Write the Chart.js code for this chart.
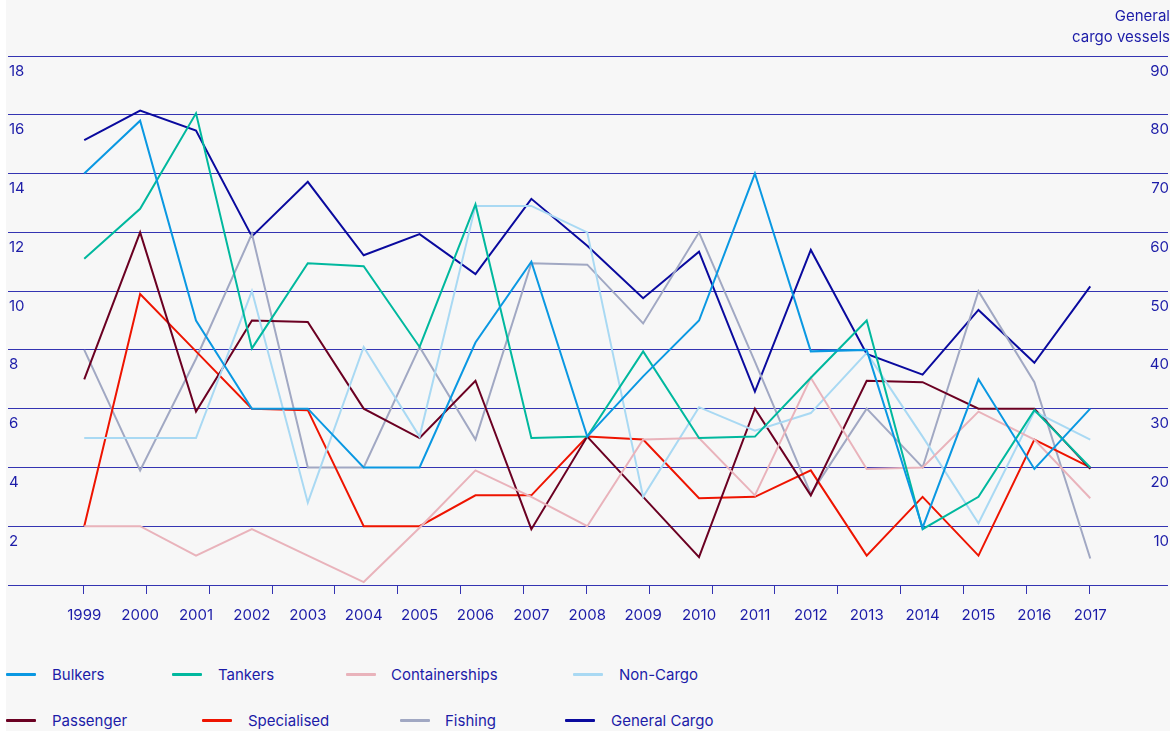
<!DOCTYPE html>
<html>
<head>
<meta charset="utf-8">
<script src="https://cdn.jsdelivr.net/npm/chart.js@4.4.1/dist/chart.umd.min.js"></script>
<style>
  html, body { margin: 0; padding: 0; background: #ffffff; }
  #panel { position: absolute; left: 6px; top: 0; width: 1164px; height: 731px; background: #f7f7f7; }
  #chart { position: absolute; left: 0; top: 0; }
  .item { position: absolute; height: 20px; font: 15px Inter, sans-serif; color: #1c1ca8; white-space: nowrap; }
  .item .mark { position: absolute; left: 0; top: 8px; width: 30px; height: 3px; border-radius: 1px; }
  .item .txt { position: absolute; top: 0; line-height: 20px; }
</style>
</head>
<body>
<div id="panel">
  <canvas id="chart" width="1164" height="634"></canvas>
</div>
<div id="legend"></div>
<script>
// Values (left axis: number of vessels, right axis: general cargo)
const years = [1999, 2000, 2001, 2002, 2003, 2004, 2005, 2006, 2007, 2008, 2009, 2010, 2011, 2012, 2013, 2014, 2015, 2016, 2017];

const bulkers        = [14.0, 15.8, 9.0, 6.0, 6.0, 4.0, 4.0, 8.25, 11.0, 5.05, 7.1, 9.0, 14.0, 7.95, 8.0, 1.95, 7.0, 3.95, 6.0];
const tankers        = [11.1, 12.8, 16.05, 8.05, 10.95, 10.85, 8.1, 12.95, 5.0, 5.05, 7.95, 5.0, 5.05, 7.05, 9.0, 1.9, 3.0, 5.95, 4.0];
const containerships = [2.0, 2.0, 1.0, 1.9, 1.0, 0.1, 1.95, 3.9, 3.0, 2.0, 4.95, 5.0, 3.05, 7.05, 3.95, 4.0, 5.9, 4.95, 2.95];
const nonCargo       = [5.0, 5.0, 5.0, 10.0, 2.8, 8.1, 5.05, 12.9, 12.9, 12.0, 3.0, 6.05, 5.25, 5.85, 7.9, 5.05, 2.1, 5.9, 4.95];
const passenger      = [7.0, 12.0, 5.9, 9.0, 8.95, 6.0, 5.0, 6.95, 1.9, 5.05, 3.0, 0.95, 6.0, 3.05, 6.95, 6.9, 6.0, 6.0, 3.95];
const specialised    = [2.0, 9.9, 7.95, 6.0, 5.95, 2.0, 2.0, 3.05, 3.05, 5.05, 4.95, 2.95, 3.0, 3.9, 1.0, 3.0, 1.0, 4.95, 4.0];
const fishing        = [8.0, 3.9, 7.7, 11.95, 4.0, 4.0, 8.1, 4.95, 10.95, 10.9, 8.9, 12.0, 7.6, 3.1, 6.0, 4.0, 10.0, 6.9, 0.9];
const generalCargo   = [75.7, 80.7, 77.3, 59.3, 68.6, 56.1, 59.7, 52.9, 65.7, 57.7, 48.8, 56.7, 32.9, 57.0, 39.3, 35.8, 46.8, 37.8, 50.8];

const leftTicks = [0, 2, 4, 6, 8, 10, 12, 14, 16, 18];
const rightTicks = [0, 10, 20, 30, 40, 50, 60, 70, 80, 90];
const axisMarks = [0, 1, 2, 3, 4, 5, 6, 7, 8, 9, 10, 11, 12, 13, 14, 15, 16];

const seriesNames = ["Bulkers", "Tankers", "Containerships", "Non-Cargo", "Passenger", "Specialised", "Fishing", "General Cargo"];
const seriesValues = [bulkers, tankers, containerships, nonCargo, passenger, specialised, fishing, generalCargo];
const seriesColors = ["#0a98e2", "#00b89e", "#e9b3bb", "#a9d9f3", "#6b0022", "#ee1400", "#a1a8c3", "#0a0a9e"];

const blue = "#1c1ca8";
const gridBlue = "#3434b2";

const datasets = seriesNames.map((name, i) => ({
    label: name,
    data: years.map((y, k) => ({ x: y, y: seriesValues[i][k] })),
    borderColor: seriesColors[i],
    backgroundColor: seriesColors[i],
    borderWidth: 2,
    pointRadius: 0,
    tension: 0,
    fill: false,
    yAxisID: name === "General Cargo" ? "y2" : "y",
}));

new Chart(document.getElementById("chart").getContext("2d"), {
    type: "line",
    data: { datasets: datasets },
    options: {
        responsive: false,
        animation: false,
        devicePixelRatio: 1,
        layout: { padding: { left: 0, right: 0, top: 0, bottom: 6 } },
        plugins: {
            legend: { display: false },
            tooltip: { enabled: false },
            title: {
                display: true,
                text: ["General", "cargo vessels"],
                align: "end",
                color: blue,
                font: { family: "Inter", size: 15, weight: "normal", lineHeight: 1.4 },
                padding: { top: 6, bottom: 8 },
            },
        },
        scales: {
            x: {
                type: "linear",
                min: 1997.636,
                max: 2018.391,
                weight: 2,
                grid: { display: false },
                border: { display: false },
                afterBuildTicks: axis => { axis.ticks = years.map(v => ({ value: v })); },
                ticks: {
                    color: blue,
                    padding: 4,
                    font: { family: "Inter", size: 15 },
                    callback: v => String(v),
                },
            },
            xt: {
                type: "linear",
                position: "bottom",
                min: -1.2,
                max: 17.252,
                weight: 1,
                grid: { drawOnChartArea: false, drawTicks: true, tickLength: 9, color: gridBlue, lineWidth: 1 },
                border: { display: false },
                afterBuildTicks: axis => { axis.ticks = axisMarks.map(v => ({ value: v })); },
                ticks: { display: false },
            },
            y: {
                position: "left",
                min: 0,
                max: 18,
                afterBuildTicks: axis => { axis.ticks = leftTicks.map(v => ({ value: v })); },
                grid: { color: gridBlue, lineWidth: 1, drawTicks: false },
                border: { display: false },
                ticks: {
                    mirror: true,
                    padding: 1,
                    labelOffset: 15,
                    color: blue,
                    font: { family: "Inter", size: 15 },
                    callback: v => (v === 0 ? "" : String(v)),
                },
            },
            y2: {
                position: "right",
                min: 0,
                max: 90,
                afterBuildTicks: axis => { axis.ticks = rightTicks.map(v => ({ value: v })); },
                grid: { display: false, drawTicks: false },
                border: { display: false },
                ticks: {
                    mirror: true,
                    padding: 1,
                    labelOffset: 15,
                    color: blue,
                    font: { family: "Inter", size: 15 },
                    callback: v => (v === 0 ? "" : String(v)),
                },
            },
        },
    },
});

// HTML legend, two rows of four
const legendPos = [
    [6, 675, 46], [172, 675, 46], [346, 675, 45], [573, 675, 46],
    [6, 721, 46], [202, 721, 46], [400, 721, 45], [565, 721, 46],
];
const legend = document.getElementById("legend");
seriesNames.forEach((name, i) => {
    const el = document.createElement("div");
    el.className = "item";
    el.style.left = legendPos[i][0] + "px";
    el.style.top = (legendPos[i][1] - 10) + "px";
    el.innerHTML = '<span class="mark" style="background:' + seriesColors[i] + '"></span>' +
        '<span class="txt" style="left:' + legendPos[i][2] + 'px">' + name + '</span>';
    legend.appendChild(el);
});
</script>
</body>
</html>
